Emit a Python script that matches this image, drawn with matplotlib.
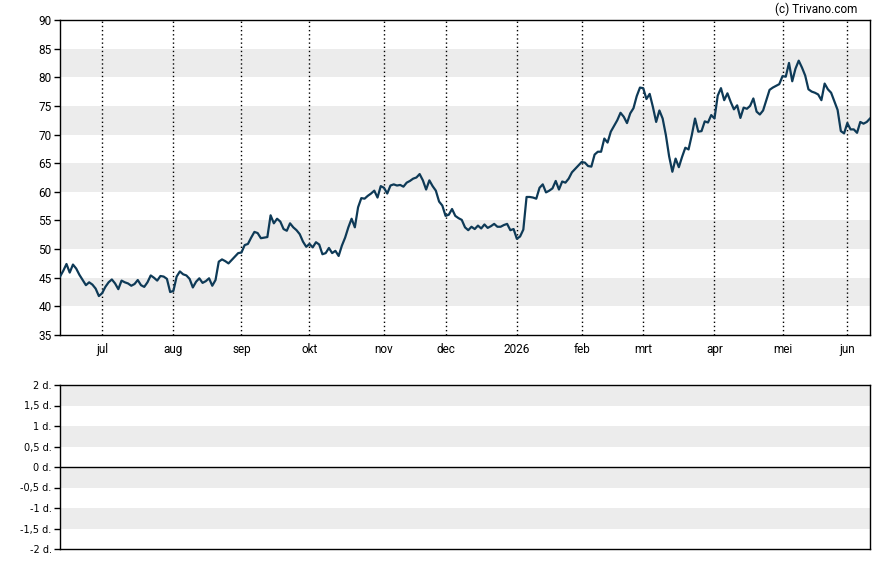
import numpy as np
import matplotlib.pyplot as plt

# US exchange holidays inside the window (trading-day axis)
holidays = ["2025-06-19", "2025-07-04", "2025-09-01", "2025-11-27", "2025-12-25",
            "2026-01-01", "2026-01-19", "2026-02-16", "2026-04-03", "2026-05-25"]
start = "2025-06-11"

# closing prices per month, one per trading day
jun25 = [45.2, 46.2, 47.4, 45.9, 47.3, 46.6, 45.5, 44.6, 43.7, 44.2, 43.8, 43.1, 41.8]
jul25 = [42.3, 43.4, 44.2, 44.7, 44.0, 43.0, 44.5, 44.2, 44.0, 43.6, 43.9, 44.6, 43.7,
         43.4, 44.2, 45.4, 45.0, 44.5, 45.3, 45.2, 44.8, 42.5]
aug25 = [42.7, 45.2, 46.1, 45.6, 45.4, 44.8, 43.3, 44.3, 44.9, 44.1, 44.4, 44.9, 43.6,
         44.6, 47.8, 48.2, 47.9, 47.5, 48.1, 48.7, 49.3]
sep25 = [49.4, 50.7, 50.9, 52.0, 53.0, 52.8, 51.9, 52.0, 52.1, 55.9, 54.5, 55.3, 54.8,
         53.5, 53.2, 54.5, 53.8, 53.3, 52.6, 51.3, 50.4]
oct25 = [50.9, 50.3, 51.2, 50.8, 49.1, 49.3, 50.2, 49.3, 49.7, 48.8, 50.6, 52.0, 53.8,
         55.3, 53.8, 57.3, 58.9, 58.8, 59.3, 59.7, 60.2, 59.0, 61.0]
nov25 = [60.7, 59.7, 61.1, 61.3, 61.1, 61.2, 60.9, 61.6, 61.9, 62.3, 62.5, 63.1, 62.0,
         60.4, 62.0, 61.0, 60.2, 58.3, 57.6]
dec25 = [55.8, 56.0, 57.0, 55.8, 55.4, 55.1, 53.8, 53.3, 53.9, 53.5, 54.1, 53.6, 54.3,
         53.7, 54.0, 54.4, 53.9, 53.9, 54.2, 54.4, 53.3, 53.5]
jan26 = [51.8, 52.2, 53.4, 59.1, 59.1, 59.0, 58.8, 60.7, 61.3, 59.9, 60.2, 60.6, 61.9,
         60.4, 61.8, 61.6, 62.3, 63.4, 64.0, 64.6]
feb26 = [65.2, 65.1, 64.5, 64.4, 66.5, 67.0, 67.0, 69.3, 68.6, 70.5, 71.5, 72.5, 73.8,
         73.1, 72.0, 73.7, 74.6, 76.7, 78.2]
mar26 = [78.1, 76.2, 77.1, 74.8, 72.2, 74.2, 72.8, 69.9, 66.2, 63.5, 65.8, 64.3, 66.1,
         67.7, 67.4, 69.9, 72.8, 70.5, 70.6, 72.3, 72.1, 73.4]
apr26 = [72.8, 76.8, 78.1, 76.0, 77.2, 75.7, 74.4, 75.1, 72.9, 74.7, 74.5, 75.0, 76.3,
         74.0, 73.5, 74.2, 76.0, 77.8, 78.2, 78.5, 78.8]
may26 = [80.2, 80.1, 82.5, 79.3, 81.5, 82.9, 81.7, 80.3, 77.9, 77.5, 77.3, 77.0, 76.0,
         78.9, 77.9, 77.3, 75.8, 74.3, 70.6, 70.2]
jun26 = [72.0, 70.9, 70.9, 70.3, 72.2, 71.9, 72.2, 72.8]

month_starts = ["2025-07-01", "2025-08-01", "2025-09-01", "2025-10-01", "2025-11-01",
                "2025-12-01", "2026-01-01", "2026-02-01", "2026-03-01", "2026-04-01",
                "2026-05-01", "2026-06-01"]
month_labels = ["jul", "aug", "sep", "okt", "nov", "dec", "2026", "feb", "mrt", "apr",
                "mei", "jun"]

y_ticks = [35, 40, 45, 50, 55, 60, 65, 70, 75, 80, 85, 90]
lower_ticks = [2, 1.5, 1, 0.5, 0, -0.5, -1, -1.5, -2]
lower_labels = ["2 d.", "1,5 d.", "1 d.", "0,5 d.", "0 d.", "-0,5 d.", "-1 d.", "-1,5 d.", "-2 d."]

values = (jun25 + jul25 + aug25 + sep25 + oct25 + nov25 + dec25 + jan26 + feb26
          + mar26 + apr26 + may26 + jun26)

cal = np.busdaycalendar(holidays=holidays)
dates = np.busday_offset(start, np.arange(len(values)), roll="forward", busdaycal=cal)
x = np.busday_count(start, dates, busdaycal=cal)
firsts = np.busday_offset(month_starts, 0, roll="forward", busdaycal=cal)
tick_pos = np.busday_count(start, firsts, busdaycal=cal)

plt.rcParams["font.family"] = ["Roboto", "DejaVu Sans"]
band = "#ececec"
line_col = "#0e3a57"

fig = plt.figure(figsize=(8.88, 5.65), dpi=100)
ax = fig.add_axes([60 / 888, 1 - 335 / 565, 810 / 888, 315 / 565])
ax2 = fig.add_axes([60 / 888, 1 - 549 / 565, 810 / 888, 164 / 565])

# main price panel
for lo in range(40, 90, 10):
    ax.axhspan(lo, lo + 5, color=band, lw=0, zorder=0)
for t in tick_pos:
    ax.axvline(t, color="black", lw=1, ls=(0, (1, 2)), zorder=1)
ax.plot(x, values, color=line_col, lw=1.6, zorder=3, solid_joinstyle="round")
ax.set_xlim(0, len(values) - 1)
ax.set_ylim(35, 90)
ax.set_yticks(y_ticks)
ax.set_xticks(tick_pos)
ax.set_xticklabels(month_labels)
ax.tick_params(axis="y", length=4, width=1, labelsize=8.5, pad=2)
ax.tick_params(axis="x", length=0, labelsize=8.5, pad=6)
for s in ax.spines.values():
    s.set_linewidth(1)

fig.text(857 / 888, 1 - 9 / 565, "(c) Trivano.com", ha="right", va="center", fontsize=8.5)

# lower panel
for lo in [1.5, 0.5, -0.5, -1.5]:
    ax2.axhspan(lo, lo + 0.5, color=band, lw=0, zorder=0)
ax2.axhline(0, color="black", lw=1, zorder=2)
ax2.set_xlim(0, len(values) - 1)
ax2.set_ylim(-2, 2)
ax2.set_xticks([])
ax2.set_yticks(lower_ticks)
ax2.set_yticklabels(lower_labels, family="DejaVu Sans")
ax2.tick_params(axis="y", length=4, width=1, labelsize=7, pad=2)
for s in ax2.spines.values():
    s.set_linewidth(1)

fig.savefig("out.png", dpi=100)
